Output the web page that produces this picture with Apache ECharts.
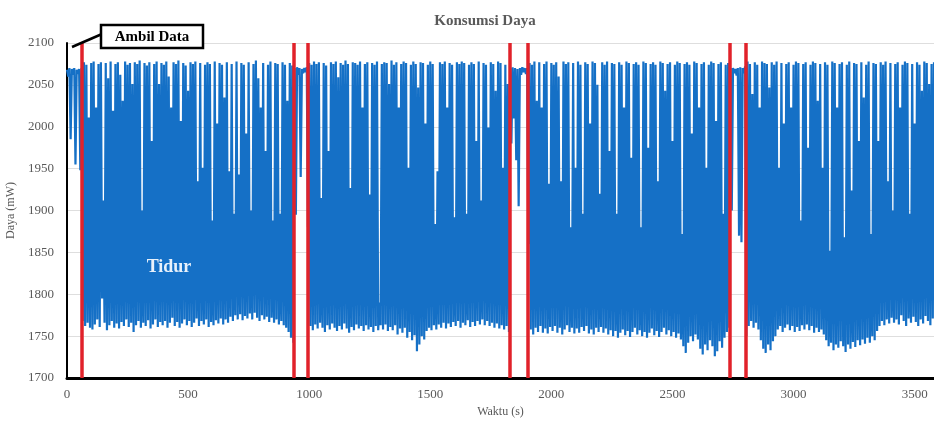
<!DOCTYPE html>
<html>
<head>
<meta charset="utf-8">
<title>Konsumsi Daya</title>
<script src="https://cdn.jsdelivr.net/npm/echarts@6/dist/echarts.min.js"></script>
<style>
  html, body { margin: 0; padding: 0; background: #fff; }
  #main { width: 934px; height: 421px; }
</style>
</head>
<body>
<div id="main"></div>
<script>
// one reading every 10 s: upper and lower edge of the trace in that slot
var binStart = 0;
var binStep = 10;

var peak = [
  2068,2070,2069,2070,2068,2069,2070,2077,2074,2011,
  2076,2078,2023,2075,2077,1912,2076,2058,2078,2019,
  2075,2077,2062,2031,2078,2074,2076,2051,2077,2075,
  2079,1900,2076,2073,2077,1983,2075,2078,2051,2076,
  2074,2078,2060,2023,2077,2075,2079,2007,2076,2073,
  2043,2077,2075,2078,1935,2076,1951,2074,2077,2075,
  1888,2078,2004,2076,2074,2035,2077,1947,2075,1896,
  2078,1943,2076,2074,1992,2077,1900,2075,2079,2058,
  2023,2076,1971,2074,2078,1888,2076,2075,1896,2077,
  2074,2031,2076,2073,2070,2071,2070,2069,2070,2071,
  2076,2074,2078,2075,2077,1915,2076,2073,1971,2077,
  2075,2078,2059,2076,2074,2079,2075,1927,2077,2076,
  2074,2078,2023,2075,2077,1919,2076,2074,2078,1790,
  2075,2077,2076,2051,2079,2074,2077,2023,2075,2078,
  2076,1951,2074,2078,2075,2047,2077,2076,2004,2074,
  2078,2075,1884,1947,2077,2075,2078,2023,2076,2074,
  1892,2077,2075,2078,2076,1896,2074,2077,2075,1983,
  2078,1912,2076,2074,1999,2077,2075,2043,2078,2076,
  1951,2074,2051,2070,2071,2070,2069,2070,2071,2070,
  2070,2076,2074,2078,2031,2077,2023,2075,2078,1932,
  2076,2074,2077,2060,1935,2078,2075,2077,1880,2076,
  1951,2078,2074,1896,2077,2075,2004,2078,2076,2050,
  1920,2077,2074,2078,1971,2076,2075,1896,2077,2074,
  2023,2078,2076,1963,2075,2077,2074,1880,2078,2076,
  1975,2075,2077,2074,1935,2078,2076,2043,2075,2077,
  1983,2074,2078,2076,1872,2075,2077,2074,1992,2078,
  2076,2023,2075,2077,1951,2074,2078,2076,2007,2075,
  2077,1896,2074,2076,2070,2070,2069,2070,2071,2070,
  2072,2078,2075,2039,2077,2074,2023,2078,2076,2075,
  2047,2077,2074,2078,1951,2076,2004,2075,2077,2023,
  2074,2078,2076,1888,2075,2077,1975,2074,2078,2076,
  2031,2075,1951,2077,2074,1852,2078,2076,2023,2075,
  2077,1868,2074,2078,1924,2076,2075,1983,2077,2035,
  2074,2078,1872,2076,2075,1983,2077,2074,2078,1935,
  2076,1900,2075,2077,2023,2074,2078,2076,1896,2075,
  2004,2077,2074,2043,2078,2076,2051,2075,2077
];

var trough = [
  2060,1985,2062,1955,2063,1948,1768,1762,1766,1760,
  1758,1764,1770,1761,1795,1766,1757,1763,1768,1760,
  1765,1759,1767,1762,1770,1761,1766,1755,1763,1768,
  1760,1766,1762,1769,1759,1764,1770,1761,1767,1763,
  1768,1760,1766,1772,1762,1767,1760,1765,1770,1763,
  1768,1761,1766,1771,1762,1768,1764,1770,1761,1767,
  1763,1769,1765,1771,1764,1770,1766,1773,1768,1775,
  1770,1776,1769,1774,1771,1777,1770,1778,1772,1768,
  1775,1770,1773,1767,1772,1766,1770,1764,1768,1763,
  1760,1755,1748,1742,1895,2062,1940,2064,2065,1880,
  1762,1757,1764,1759,1766,1760,1755,1763,1758,1765,
  1760,1756,1762,1758,1765,1759,1754,1761,1757,1764,
  1759,1762,1756,1763,1758,1761,1755,1762,1757,1763,
  1758,1764,1756,1761,1757,1763,1752,1759,1754,1760,
  1748,1755,1745,1751,1732,1740,1750,1746,1756,1760,
  1757,1763,1758,1764,1760,1766,1759,1765,1761,1767,
  1762,1768,1760,1766,1763,1769,1761,1767,1762,1768,
  1764,1770,1763,1768,1762,1766,1760,1765,1759,1763,
  1758,1762,1755,1980,2010,1960,1905,2062,2065,2063,
  1860,1758,1752,1760,1755,1762,1754,1759,1753,1761,
  1756,1762,1754,1760,1752,1758,1763,1755,1760,1753,
  1759,1754,1761,1756,1762,1753,1758,1752,1760,1755,
  1761,1754,1759,1752,1757,1750,1756,1748,1754,1758,
  1751,1756,1749,1755,1760,1752,1757,1750,1755,1748,
  1754,1759,1751,1756,1749,1755,1760,1752,1757,1750,
  1755,1748,1753,1746,1738,1730,1742,1750,1744,1752,
  1746,1735,1728,1740,1733,1745,1738,1726,1732,1744,
  1736,1748,1755,1760,1900,2064,2061,1870,1862,2064,
  1750,1762,1768,1760,1766,1758,1745,1735,1730,1740,
  1733,1744,1750,1758,1762,1755,1760,1764,1757,1762,
  1755,1761,1756,1763,1758,1764,1757,1762,1754,1760,
  1755,1758,1752,1745,1738,1742,1733,1740,1736,1744,
  1738,1731,1740,1735,1743,1737,1745,1739,1746,1741,
  1748,1742,1750,1745,1756,1762,1768,1763,1770,1765,
  1772,1766,1770,1764,1775,1768,1762,1771,1766,1773,
  1767,1762,1770,1765,1774,1768,1763,1771,1766
];

// moments where the mode changes (red lines), seconds
var markerTimes = [62, 936, 993, 1830, 1904, 2737, 2803];

var signal = [];
peak.forEach(function (p, i) {
  var t = binStart + i * binStep;
  signal.push([t, p], [t + binStep / 2, trough[i]]);
});

var serif = '"Liberation Serif", "DejaVu Serif", serif';
var grey = '#595959';
var plain = function (v) { return String(v); };

var chartDom = document.getElementById('main');
var myChart = echarts.init(chartDom);

var option = {
  animation: false,
  backgroundColor: '#fff',
  title: {
    text: 'Konsumsi Daya',
    left: 480,
    top: 9,
    textAlign: 'center',
    textStyle: { fontFamily: serif, fontSize: 15, fontWeight: 'bold', color: grey }
  },
  grid: { left: 67, right: 0, top: 43, bottom: 43, containLabel: false, outerBoundsMode: 'none' },
  xAxis: {
    type: 'value',
    min: 0,
    max: 3580,
    interval: 500,
    name: 'Waktu (s)',
    nameLocation: 'middle',
    nameGap: 27,
    nameTextStyle: { fontFamily: serif, fontSize: 12, color: grey },
    axisLine: { lineStyle: { color: '#000', width: 3 } },
    axisTick: { show: false },
    splitLine: { show: false },
    axisLabel: { showMaxLabel: false, formatter: plain, color: grey, fontFamily: serif, fontSize: 13, margin: 10 }
  },
  yAxis: {
    type: 'value',
    min: 1700,
    max: 2100,
    interval: 50,
    name: 'Daya (mW)',
    nameLocation: 'middle',
    nameGap: 45,
    nameTextStyle: { fontFamily: serif, fontSize: 12, color: grey },
    axisLine: { show: true, lineStyle: { color: '#000', width: 2 } },
    axisTick: { show: false },
    splitLine: { lineStyle: { color: '#dedede' } },
    axisLabel: { formatter: plain, color: grey, fontFamily: serif, fontSize: 13, margin: 13 }
  },
  series: [
    {
      type: 'line',
      data: signal,
      showSymbol: false,
      symbol: 'none',
      lineStyle: { color: '#1570c6', width: 2.2 },
      markLine: {
        silent: true,
        symbol: 'none',
        label: { show: false },
        lineStyle: { color: '#e1222a', width: 3.5, type: 'solid' },
        data: markerTimes.map(function (t) { return { xAxis: t }; })
      }
    }
  ],
  graphic: [
    { type: 'line', z: 100, shape: { x1: 102, y1: 34, x2: 72, y2: 47 },
      style: { stroke: '#000', lineWidth: 2.5 } },
    { type: 'rect', z: 100, shape: { x: 101, y: 25, width: 102, height: 23 },
      style: { fill: '#fff', stroke: '#000', lineWidth: 2.5 } },
    { type: 'text', z: 101, x: 152, y: 37,
      style: { text: 'Ambil Data', font: 'bold 15px ' + serif, fill: '#000', align: 'center', verticalAlign: 'middle' } },
    { type: 'text', z: 101, x: 169, y: 267,
      style: { text: 'Tidur', font: 'bold 18px ' + serif, fill: '#e8f1fb', align: 'center', verticalAlign: 'middle' } }
  ]
};

option && myChart.setOption(option);
</script>
</body>
</html>
